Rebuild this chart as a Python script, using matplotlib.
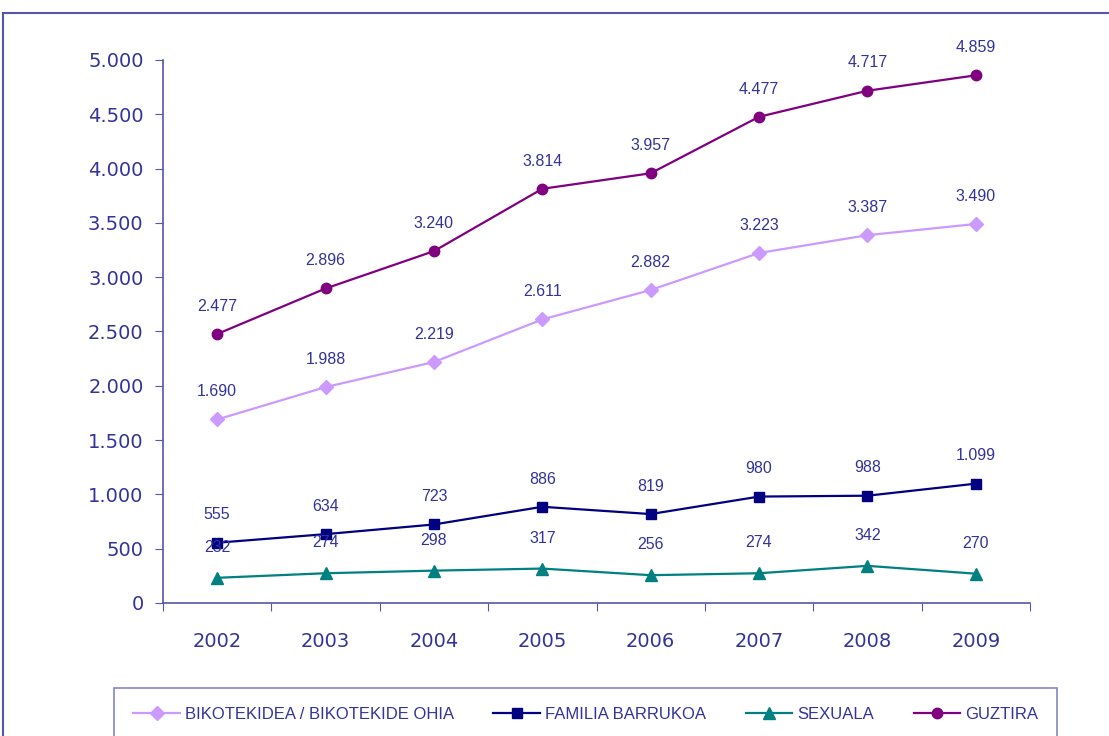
import matplotlib.pyplot as plt
from matplotlib.lines import Line2D
from matplotlib.ticker import FuncFormatter

years = ['2002', '2003', '2004', '2005', '2006', '2007', '2008', '2009']
bikotekidea = [1690, 1988, 2219, 2611, 2882, 3223, 3387, 3490]
familia = [555, 634, 723, 886, 819, 980, 988, 1099]
sexuala = [232, 274, 298, 317, 256, 274, 342, 270]
guztira = [2477, 2896, 3240, 3814, 3957, 4477, 4717, 4859]

names = ['BIKOTEKIDEA / BIKOTEKIDE OHIA', 'FAMILIA BARRUKOA', 'SEXUALA', 'GUZTIRA']

txt = '#333399'
axc = '#5555aa'
narrow = ['Liberation Sans', 'DejaVu Sans']

fig = plt.figure(figsize=(11.09, 7.36), dpi=100)
ax = fig.add_axes([163 / 1109, 1 - 603 / 736, (1030 - 163) / 1109, (603 - 60) / 736])

def dots(v):
    return f'{int(v):,}'.replace(',', '.')

x = list(range(len(years)))
series = [
    (bikotekidea, '#cc99ff', 'D', 7),
    (familia, '#000080', 's', 7.5),
    (sexuala, '#008080', '^', 8.5),
    (guztira, '#800080', 'o', 7.5),
]
handles = []
for (vals, col, mk, ms), nm in zip(series, names):
    h, = ax.plot(x, vals, color=col, marker=mk, markersize=ms, lw=1.6, label=nm)
    handles.append(h)
    off = 22 if vals is sexuala else 20
    for xi, v in zip(x, vals):
        ax.annotate(dots(v), (xi, v), xytext=(0, off), textcoords='offset points',
                    ha='center', va='center', fontsize=11.5, color=txt, family=narrow)

ax.set_xlim(-0.5, 7.5)
ax.set_ylim(0, 5000)
ax.set_yticks(range(0, 5001, 500))
ax.yaxis.set_major_formatter(FuncFormatter(lambda v, p: dots(v)))
ax.set_xticks([i - 0.5 for i in range(9)])
ax.set_xticklabels([])
ax.set_xticks(x, minor=True)
ax.set_xticklabels(years, minor=True)
ax.tick_params(axis='x', which='minor', length=0, pad=21, labelsize=14, labelcolor=txt)
ax.tick_params(axis='x', which='major', length=6, color=axc, direction='out')
ax.tick_params(axis='y', length=6, color=axc, labelsize=14, labelcolor=txt, pad=8)

for s in ['top', 'right']:
    ax.spines[s].set_visible(False)
for s in ['left', 'bottom']:
    ax.spines[s].set_color(axc)
    ax.spines[s].set_linewidth(1.2)

leg = fig.legend(handles=handles, loc='upper left', ncol=4,
                 bbox_to_anchor=(114 / 1109, 1 - 688 / 736), borderaxespad=0,
                 frameon=True, fancybox=False, borderpad=1.15, handlelength=2.8,
                 handletextpad=0.3, columnspacing=2.37,
                 prop={'family': narrow, 'size': 12})
leg.get_frame().set_edgecolor('#6666bb')
leg.get_frame().set_linewidth(1.2)
for t in leg.get_texts():
    t.set_color(txt)

fx = 3 / 1109
fy = 1 - 13 / 736
fig.add_artist(Line2D([fx, fx], [-0.1, fy], color='#5555aa', lw=1.5, transform=fig.transFigure))
fig.add_artist(Line2D([fx, 1.1], [fy, fy], color='#5555aa', lw=1.5, transform=fig.transFigure))

fig.savefig('out.png', dpi=100)
